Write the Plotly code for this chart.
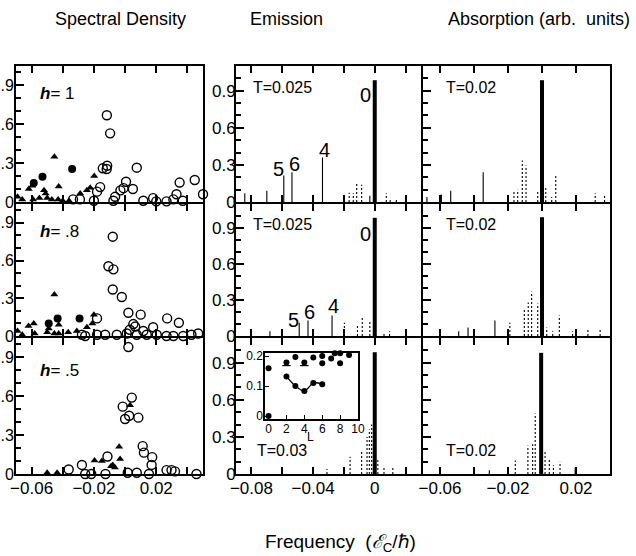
import plotly.graph_objects as go

W, H = 636, 556
FONT = "Liberation Sans, Arial, Helvetica, sans-serif"

# ---------------- data: spectral density (left column) ----------------
h1_open_x = [-0.0117, -0.0096, -0.0115, -0.0118, -0.0143, 0.0075, -0.016, -0.018, 0.0006, -0.001, 0.005,
             -0.003, 0.0447, 0.035, 0.033, 0.05, -0.0334, -0.029, -0.020, -0.0064, -0.0075, 0.0117, 0.018,
             0.020, 0.0266, 0.031, 0.037]
h1_open_y = [0.67, 0.53, 0.28, 0.255, 0.26, 0.265, 0.115, 0.08, 0.156, 0.107, 0.10, 0.09, 0.17, 0.15, 0.06,
             0.06, 0.02, 0.02, 0.01, 0.04, 0.01, 0.01, 0.03, 0.005, 0.005, 0.02, 0.01]
h1_fill_x = [-0.034, -0.053, -0.0586]
h1_fill_y = [0.254, 0.195, 0.146]
h1_tri_x = [-0.0454, -0.0198, -0.0426, -0.0596, -0.0618, -0.052, -0.051, -0.0245, -0.0224, -0.0288, -0.069,
            -0.066, -0.059, -0.055, -0.050, -0.047, -0.043, -0.040, -0.036]
h1_tri_y = [0.35, 0.20, 0.12, 0.125, 0.10, 0.09, 0.065, 0.09, 0.11, 0.065, 0.04, 0.02, 0.02, 0.03, 0.03, 0.02,
            0.02, 0.01, 0.01]

h8_open_x = [-0.0079, -0.0107, -0.0075, -0.0079, -0.0021, 0.0021, 0.010, -0.018, 0.027, 0.0345, 0.0053, 0.0065,
             0.018, 0.003, 0.0117, -0.0277, -0.0256, -0.018, -0.0128, -0.0053, 0.0011, 0.0075, 0.0139, 0.0203,
             0.0266, 0.031, 0.0373, 0.0426, 0.0469]
h8_open_y = [0.79, 0.555, 0.53, 0.37, 0.31, 0.185, 0.17, 0.14, 0.14, 0.105, 0.095, 0.075, 0.07, 0.05, 0.04,
             0.01, 0.0, 0.01, 0.01, 0.01, 0.02, 0.01, 0.01, 0.01, 0.0, 0.0, 0.0, 0.01, 0.02]
h8_fill_x = [-0.0433, -0.0292, -0.049]
h8_fill_y = [0.14, 0.14, 0.10]
h8_tri_x = [-0.0454, -0.0586, -0.062, -0.0426, -0.020, -0.021, -0.0245, -0.049, -0.050, -0.0454, -0.0426,
            -0.0365, -0.031, -0.069, -0.066, -0.058]
h8_tri_y = [0.33, 0.10, 0.08, 0.09, 0.17, 0.10, 0.07, 0.06, 0.03, 0.02, 0.02, 0.03, 0.04, 0.04, 0.01, 0.02]

h5_open_x = [0.0021, 0.0043, -0.0015, 0.0026, 0.0, 0.0085, 0.0113, 0.0121, 0.0174, 0.017, -0.0113, -0.0277,
             -0.0362, -0.0256, -0.0217, -0.0126, 0.0017, 0.0075, 0.0153, 0.0266, 0.0298, 0.032, 0.0458]
h5_open_y = [0.98, 0.59, 0.52, 0.45, 0.425, 0.435, 0.215, 0.165, 0.13, 0.07, 0.135, 0.07, 0.035, 0.0, 0.0,
             0.0, 0.01, 0.01, 0.0, 0.03, 0.03, 0.02, 0.0]
h5_tri_x = [-0.0038, -0.0032, 0.0032, -0.0196, -0.0149, -0.0079, -0.0065, -0.0090, -0.050, -0.0436]
h5_tri_y = [0.21, 0.115, 0.53, 0.105, 0.10, 0.07, 0.05, 0.06, 0.01, 0.01]

# ---------------- data: emission (middle column) ----------------
em_main_x = [0.0, 0.0, 0.0]
em_main_y = [0.985, 0.985, 0.985]
em1_solid_x = [-0.0339, -0.0537, -0.059, -0.070, -0.0843, -0.0032]
em1_solid_y = [0.36, 0.24, 0.215, 0.09, 0.07, 0.05]
em1_dash_x = [-0.0166, -0.0139, -0.0117, -0.0085, 0.0075, 0.0100, 0.0140]
em1_dash_y = [0.075, 0.07, 0.16, 0.14, 0.07, 0.03, 0.02]
em2_solid_x = [-0.0277, -0.0433, -0.049, -0.068]
em2_solid_y = [0.17, 0.13, 0.11, 0.04]
em2_dash_x = [-0.0197, -0.0112, -0.0081, -0.0032, 0.0096, 0.006]
em2_dash_y = [0.11, 0.10, 0.16, 0.12, 0.04, 0.02]
em3_solid_x = []
em3_solid_y = []
em3_dash_x = [-0.002, -0.0035, -0.005, -0.0085, -0.016, -0.020, -0.031, 0.002, 0.006, 0.0117]
em3_dash_y = [0.40, 0.36, 0.30, 0.18, 0.14, 0.04, 0.04, 0.12, 0.05, 0.05]

# ---------------- data: absorption (right column) ----------------
ab_main_x = [0.0, 0.0, -0.0005]
ab_main_y = [0.985, 0.99, 0.98]
ab1_solid_x = [-0.0346, -0.0537, -0.0592, -0.0677]
ab1_solid_y = [0.24, 0.09, 0.06, 0.04]
ab1_dash_x = [-0.0165, -0.0143, -0.0116, -0.0094, -0.0025, 0.0022, 0.0057, 0.0081, 0.0313, 0.0368]
ab1_dash_y = [0.09, 0.10, 0.335, 0.295, 0.09, 0.12, 0.04, 0.22, 0.07, 0.05]
ab2_solid_x = [-0.0277, -0.0435, -0.049]
ab2_solid_y = [0.13, 0.07, 0.04]
ab2_dash_x = [-0.0189, -0.0104, -0.0081, -0.0061, -0.0025, 0.0028, 0.0063, 0.0102, 0.018, 0.027, 0.0342]
ab2_dash_y = [0.11, 0.23, 0.28, 0.37, 0.27, 0.07, 0.04, 0.17, 0.04, 0.06, 0.05]
ab3_solid_x = [-0.031, 0.0195]
ab3_solid_y = [0.03, 0.05]
ab3_dash_x = [-0.004, -0.0055, -0.0083, -0.0157, 0.0018, 0.0043, 0.0067, 0.0106]
ab3_dash_y = [0.49, 0.24, 0.23, 0.11, 0.18, 0.12, 0.07, 0.10]

# peak labels in emission panels
em1_lab_text = ["0", "4", "6", "5"]
em1_lab_x = [-0.006, -0.0328, -0.0522, -0.0622]
em1_lab_y = [0.863, 0.42, 0.31, 0.27]
em2_lab_text = ["0", "4", "6", "5"]
em2_lab_x = [-0.006, -0.0268, -0.0424, -0.0528]
em2_lab_y = [0.85, 0.25, 0.20, 0.13]

# ---------------- data: inset ----------------
inset_up_L = [0, 2, 3, 4, 5, 6, 6, 7, 7.4, 8, 8, 9]
inset_up_v = [0.159, 0.178, 0.197, 0.178, 0.195, 0.2, 0.176, 0.192, 0.209, 0.209, 0.176, 0.203]
inset_bar_L = [2, 4]
inset_bar_v = [0.168, 0.168]
inset_lo_L = [2, 3, 4, 5, 6]
inset_lo_v = [0.132, 0.10, 0.083, 0.11, 0.106]
inset_zero_L = [0]
inset_zero_v = [0.0]

# tick labels
left_xticks = [-0.06, -0.04, -0.02, 0.0, 0.02, 0.04]
left_xtext = ["\u22120.06", " ", "\u22120.02", " ", "0.02", " "]
mid_xticks = [-0.08, -0.06, -0.04, -0.02, 0.0, 0.02]
mid_xtext = ["\u22120.08", " ", "\u22120.04", " ", "0", " "]
right_xticks = [-0.06, -0.04, -0.02, 0.0, 0.02]
right_xtext = ["\u22120.06", " ", "\u22120.02", " ", "0.02"]
yticks = [0.0, 0.3, 0.6, 0.9]
ytext_left = ["0", ".3", ".6", ".9"]
ytext = ["0", "0.3", "0.6", "0.9"]
yminor = [0.1, 0.2, 0.4, 0.5, 0.7, 0.8, 1.0]

# ---------------- layout geometry ----------------
col_px = [(16, 203), (236, 421), (423, 610)]
row_px = [(66, 202), (204, 336), (338, 474)]
col_xrange = [[-0.07, 0.05], [-0.09, 0.03], [-0.07, 0.04]]
col_yrange = [[0, 1.05], [0, 1.1], [0, 1.1]]
col_xticks = [(left_xticks, left_xtext), (mid_xticks, mid_xtext), (right_xticks, right_xtext)]


def dom_x(a, b):
    return [a / W, b / W]


def dom_y(a, b):
    return [1 - b / H, 1 - a / H]


fig = go.Figure()
layout = dict(width=W, height=H, margin=dict(l=0, r=0, t=0, b=0, pad=0), paper_bgcolor="white",
              plot_bgcolor="rgba(0,0,0,0)", showlegend=False, font=dict(family=FONT, color="black"))
annotations = []


def ax_names(k):
    return ("x" if k == 1 else f"x{k}", "y" if k == 1 else f"y{k}",
            "xaxis" if k == 1 else f"xaxis{k}", "yaxis" if k == 1 else f"yaxis{k}")


for r in range(3):
    for c in range(3):
        k = r * 3 + c + 1
        xn, yn, xa, ya = ax_names(k)
        tv, tt = col_xticks[c]
        layout[xa] = dict(domain=dom_x(*col_px[c]), range=col_xrange[c], anchor=yn, showline=True,
                          linecolor="black", linewidth=2, mirror="allticks", ticks="inside", ticklen=7,
                          tickwidth=1.5, tickcolor="black", tickmode="array", tickvals=tv,
                          ticktext=tt, showticklabels=(r == 2), showgrid=False, zeroline=False,
                          tickfont=dict(size=17, family=FONT), ticklabelstandoff=-2, automargin=False,
                          fixedrange=True)
        layout[ya] = dict(domain=dom_y(*row_px[r]), range=col_yrange[c], anchor=xn, showline=True,
                          linecolor="black", linewidth=2, mirror=True, ticks="inside", ticklen=8,
                          tickwidth=1.5, tickcolor="black", tickmode="array", tickvals=yticks,
                          ticktext=ytext_left if c == 0 else ytext, showticklabels=(c < 2), showgrid=False,
                          zeroline=False, tickfont=dict(size=16 if c == 0 else 17, family=FONT),
                          ticklabelstandoff=-3 if c == 0 else -5,
                          minor=dict(tickmode="array", tickvals=yminor, ticks="inside", ticklen=5,
                                     tickwidth=1.5, tickcolor="black", showgrid=False),
                          automargin=False, fixedrange=True)


def add_scatter(k, xs, ys, symbol, size, filled):
    xn, yn, _, _ = ax_names(k)
    if filled:
        m = dict(symbol=symbol, size=size, color="black", line=dict(width=0))
    else:
        m = dict(symbol=symbol, size=size, color="black", line=dict(width=1.4, color="black"))
    fig.add_trace(go.Scatter(x=xs, y=ys, mode="markers", marker=m, xaxis=xn, yaxis=yn,
                             cliponaxis=False, hoverinfo="skip"))


def add_sticks(k, xs, ys, width, dash):
    xn, yn, _, _ = ax_names(k)
    X, Y = [], []
    for x, y in zip(xs, ys):
        X += [x, x, None]
        Y += [0, y, None]
    fig.add_trace(go.Scatter(x=X, y=Y, mode="lines", line=dict(color="black", width=width, dash=dash),
                             xaxis=xn, yaxis=yn, hoverinfo="skip"))


def add_text(k, x, y, text, size, anchor="left"):
    xn, yn, _, _ = ax_names(k)
    annotations.append(dict(x=x, y=y, xref=xn, yref=yn, text=text, showarrow=False, xanchor=anchor,
                            yanchor="middle", font=dict(size=size, family=FONT, color="black")))


# left column
spec = [(h1_open_x, h1_open_y, h1_fill_x, h1_fill_y, h1_tri_x, h1_tri_y, "1"),
        (h8_open_x, h8_open_y, h8_fill_x, h8_fill_y, h8_tri_x, h8_tri_y, ".8"),
        (h5_open_x, h5_open_y, [], [], h5_tri_x, h5_tri_y, ".5")]
h_lab_y = [0.84, 0.83, 0.80]
for r, (ox, oy, fx_, fy_, tx, ty, hl) in enumerate(spec):
    k = r * 3 + 1
    add_scatter(k, tx, ty, "triangle-up", 7, True)
    if fx_:
        add_scatter(k, fx_, fy_, "circle", 8, True)
    add_scatter(k, ox, oy, "circle-open", 9, False)
    add_text(k, -0.056, h_lab_y[r], "<b><i>h</i></b>= " + hl, 17)

# middle column
em = [(em1_solid_x, em1_solid_y, em1_dash_x, em1_dash_y),
      (em2_solid_x, em2_solid_y, em2_dash_x, em2_dash_y),
      (em3_solid_x, em3_solid_y, em3_dash_x, em3_dash_y)]
for r, (sx, sy, dx, dy) in enumerate(em):
    k = r * 3 + 2
    if sx:
        add_sticks(k, sx, sy, 1.1, "solid")
    add_sticks(k, dx, dy, 1.1, "2px,2px")
    add_sticks(k, [em_main_x[r]], [em_main_y[r]], 4, "solid")
add_text(2, -0.08, 0.927, "T=0.025", 16)
add_text(5, -0.08, 0.93, "T=0.025", 16)
add_text(8, -0.0778, 0.19, "T=0.03", 16)
for t, x, y in zip(em1_lab_text, em1_lab_x, em1_lab_y):
    add_text(2, x, y, t, 20, "center")
for t, x, y in zip(em2_lab_text, em2_lab_x, em2_lab_y):
    add_text(5, x, y, t, 20, "center")

# right column
ab = [(ab1_solid_x, ab1_solid_y, ab1_dash_x, ab1_dash_y),
      (ab2_solid_x, ab2_solid_y, ab2_dash_x, ab2_dash_y),
      (ab3_solid_x, ab3_solid_y, ab3_dash_x, ab3_dash_y)]
for r, (sx, sy, dx, dy) in enumerate(ab):
    k = r * 3 + 3
    add_sticks(k, sx, sy, 1.1, "solid")
    add_sticks(k, dx, dy, 1.1, "2px,2px")
    add_sticks(k, [ab_main_x[r]], [ab_main_y[r]], 4, "solid")
add_text(3, -0.0576, 0.93, "T=0.02", 16)
add_text(6, -0.0576, 0.93, "T=0.02", 16)
add_text(9, -0.0576, 0.19, "T=0.02", 16)

# inset
layout["xaxis10"] = dict(domain=dom_x(265, 358), range=[-0.4, 10], anchor="y10", showline=True,
                         linecolor="black", linewidth=1.5, mirror=True, ticks="inside", ticklen=4,
                         tickwidth=1.2, tickcolor="black", tickmode="array", tickvals=[0, 2, 4, 6, 8, 10],
                         showgrid=False, zeroline=False, tickfont=dict(size=12, family=FONT),
                         ticklabelstandoff=-2, automargin=False, fixedrange=True)
layout["yaxis10"] = dict(domain=dom_y(353, 419), range=[-0.01, 0.21], anchor="x10", showline=True,
                         linecolor="black", linewidth=1.5, mirror=True, ticks="inside", ticklen=4,
                         tickwidth=1.2, tickcolor="black", tickmode="array", tickvals=[0, 0.1, 0.2],
                         ticktext=["0", "0.1", "0.2"], showgrid=False, zeroline=False,
                         tickfont=dict(size=12, family=FONT), ticklabelstandoff=-2, automargin=False,
                         fixedrange=True)
fig.add_trace(go.Scatter(x=inset_lo_L, y=inset_lo_v, mode="lines+markers", line=dict(color="black", width=1.3,
                         shape="spline"), marker=dict(size=6, color="black"), xaxis="x10", yaxis="y10",
                         cliponaxis=False, hoverinfo="skip"))
fig.add_trace(go.Scatter(x=inset_up_L, y=inset_up_v, mode="markers", marker=dict(size=6, color="black"),
                         xaxis="x10", yaxis="y10", cliponaxis=False, hoverinfo="skip"))
fig.add_trace(go.Scatter(x=inset_zero_L, y=inset_zero_v, mode="markers", marker=dict(size=6, color="black"),
                         xaxis="x10", yaxis="y10", cliponaxis=False, hoverinfo="skip"))
fig.add_trace(go.Scatter(x=inset_bar_L, y=inset_bar_v, mode="markers",
                         marker=dict(symbol="line-ew", size=6, line=dict(width=1.2, color="black")),
                         xaxis="x10", yaxis="y10", cliponaxis=False, hoverinfo="skip"))
annotations.append(dict(x=310 / W, y=1 - 437 / H, xref="paper", yref="paper", text="L", showarrow=False,
                        xanchor="center", yanchor="middle", font=dict(size=12, family=FONT)))

# headers and axis title
annotations.append(dict(x=53 / W, y=1 - 19 / H, xref="paper", yref="paper", text="Spectral Density",
                        showarrow=False, xanchor="left", yanchor="middle", font=dict(size=18, family=FONT)))
annotations.append(dict(x=248 / W, y=1 - 19 / H, xref="paper", yref="paper", text="Emission",
                        showarrow=False, xanchor="left", yanchor="middle", font=dict(size=18, family=FONT)))
annotations.append(dict(x=632 / W, y=1 - 19 / H, xref="paper", yref="paper", text="Absorption (arb.  units)",
                        showarrow=False, xanchor="right", yanchor="middle", font=dict(size=18, family=FONT)))
annotations.append(dict(x=340 / W, y=1 - 543 / H, xref="paper", yref="paper",
                        text="Frequency  (<i>\u2130</i><sub>C</sub>/\u210f)",
                        showarrow=False, xanchor="center", yanchor="middle", font=dict(size=19, family=FONT)))

layout["annotations"] = annotations
fig.update_layout(**layout)
fig.write_html("out.html", config={"displayModeBar": False},
               post_script="document.body.style.margin='0px';")
